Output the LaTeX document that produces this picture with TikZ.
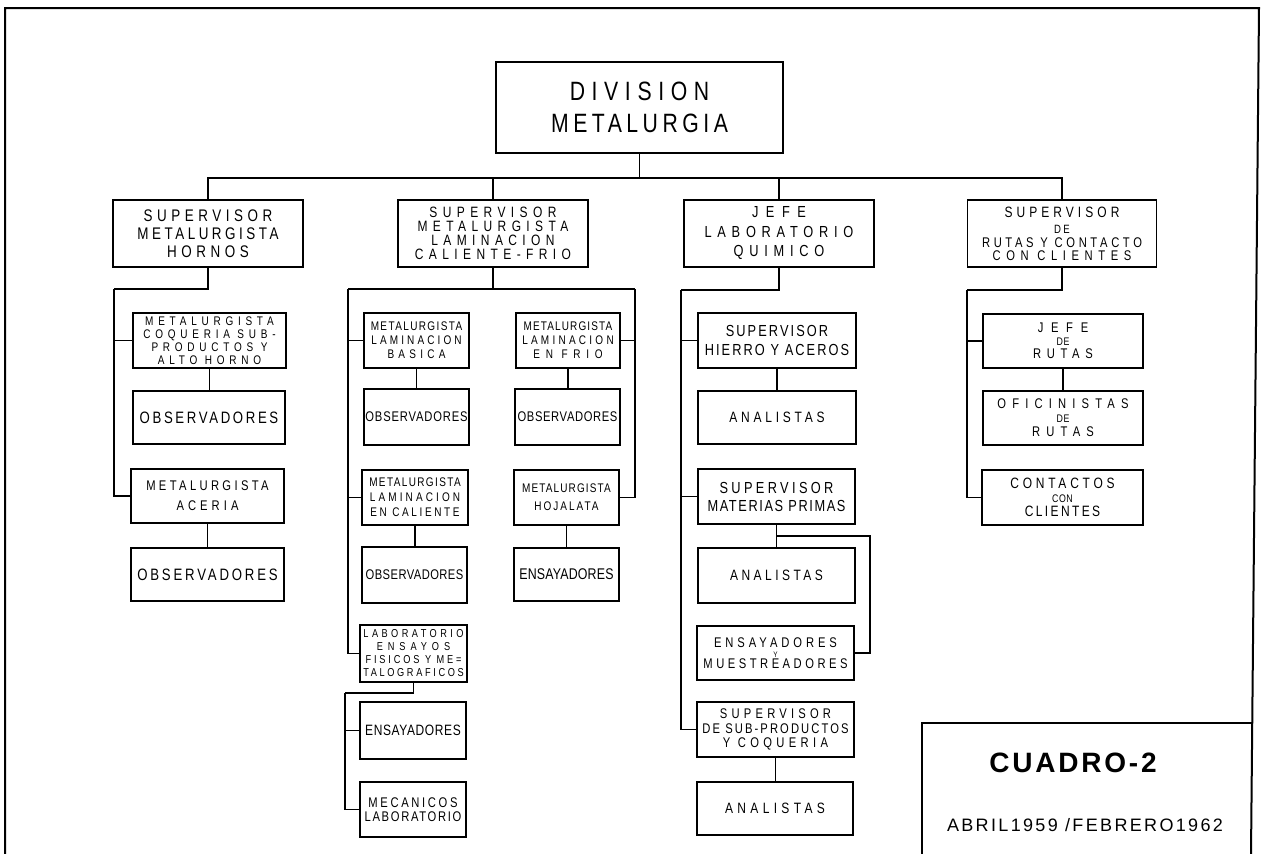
\documentclass[tikz,border=0pt]{standalone}
\usepackage{fontspec}
\setmainfont{Liberation Sans}[FakeStretch=0.8]
\newfontfamily\plainfont{Liberation Sans}
% size, baseline skip, letter spacing
\newcommand\hand[3]{\fontsize{#1}{#2}\selectfont\addfontfeatures{LetterSpace=#3}}
% letter spacing for one line
\newcommand\lsp[2]{{\addfontfeatures{LetterSpace=#1}#2}}
\tikzset{
  box/.style={draw, line width=1.6pt, inner sep=0pt, align=center},
  link/.style={line width=1.2pt},
  frame/.style={line width=2pt}
}
\begin{document}
\begin{tikzpicture}[x=1pt, y=-1pt, line join=miter]
\useasboundingbox (0,0) rectangle (1264,854);

% sheet border and title block
\draw[frame] (5,854) -- (5,8) -- (1259,8) -- (1251,854);
\draw[frame] (922,854) -- (922,723) -- (1253,723);
\node[font={\plainfont\fontsize{28}{28}\selectfont\addfontfeatures{LetterSpace=10}\bfseries}] (cuadro) at (1073,763) {CUADRO-2};
\node[font={\plainfont\fontsize{18}{18}\selectfont\addfontfeatures{LetterSpace=13}}] (fecha) at (1085,825) {ABRIL1959 /FEBRERO1962};

% head of the division
\node[box, minimum width=287, minimum height=91, font={\hand{26.5}{32}{17}}] (root) at (639.5,107.5) {\lsp{25}{DIVISION}\\METALURGIA};

% second level
\node[box, minimum width=190, minimum height=67, font={\hand{16.8}{18}{27}}] (s1) at (208,233.5) {SUPERVISOR\\\lsp{21}{METALURGISTA}\\HORNOS};
\node[box, minimum width=190, minimum height=67, font={\hand{15}{14}{36}}] (s2) at (493,233.5) {SUPERVISOR\\METALURGISTA\\LAMINACION\\CALIENTE-FRIO};
\node[box, minimum width=190, minimum height=67, font={\hand{16}{19.5}{36}}] (s3) at (779,233.5) {\lsp{47}{JEFE}\\LABORATORIO\\QUIMICO};
\node[box, minimum width=189, minimum height=67, font={\hand{15}{14}{27}}] (s4) at (1062,233.5) {SUPERVISOR\\[2pt]{\hand{12}{12}{20}DE}\\{\hand{14}{14}{26}RUTAS Y CONTACTO}\\[-1pt]{\hand{14}{14}{40}CON CLIENTES}};

\coordinate (b0) at (639.5,178);
\draw[link] (root.south) -- (b0);
\foreach \s in {s1,s2,s3,s4} \draw[link] (\s.north) |- (b0);

% hornos
\node[box, minimum width=153, minimum height=55, font={\hand{12.5}{13}{38}}] (c1a) at (209.5,340.5) {METALURGISTA\\COQUERIA SUB-\\PRODUCTOS Y\\ALTO HORNO};
\node[box, minimum width=152, minimum height=53, font={\hand{16.5}{16}{16}}] (c1b) at (209,417.5) {OBSERVADORES};
\node[box, minimum width=153, minimum height=54, font={\hand{14}{20}{24}}] (c1c) at (207.5,496) {METALURGISTA\\\lsp{29}{ACERIA}};
\node[box, minimum width=153, minimum height=53, font={\hand{16.5}{16}{17}}] (c1d) at (207.5,574.5) {OBSERVADORES};

\coordinate (k1) at (114,289);
\draw[link] (s1.south) |- (k1);
\draw[link] (k1) |- (c1c.west);
\draw[link] (k1 |- c1a.west) -- (c1a.west);
\draw[link] (c1a.south) -- (c1a.south |- c1b.north);
\draw[link] (c1c.south) -- (c1c.south |- c1d.north);

% laminacion
\node[box, minimum width=105, minimum height=55, font={\hand{12.5}{14}{25}}] (c2a) at (416.5,340.5) {\lsp{11}{METALURGISTA}\\LAMINACION\\\lsp{34}{BASICA}};
\node[box, minimum width=105, minimum height=56, font={\hand{14}{14}{6}}] (c2b) at (416.5,417) {OBSERVADORES};
\node[box, minimum width=106, minimum height=55, font={\hand{12.5}{15}{25}}] (c2c) at (415,497.5) {\lsp{11}{METALURGISTA}\\LAMINACION\\\lsp{21}{EN CALIENTE}};
\node[box, minimum width=105, minimum height=56, font={\hand{14}{14}{3}}] (c2d) at (414.5,575) {OBSERVADORES};
\node[box, minimum width=104, minimum height=55, font={\hand{12.5}{14}{26}}] (c2e) at (568,340.5) {\lsp{9}{METALURGISTA}\\LAMINACION\\\lsp{46}{EN FRIO}};
\node[box, minimum width=105, minimum height=56, font={\hand{14}{14}{4.5}}] (c2f) at (567.5,417) {OBSERVADORES};
\node[box, minimum width=105, minimum height=55, font={\hand{12.5}{18}{9}}] (c2g) at (566.5,497.5) {METALURGISTA\\\lsp{16}{HOJALATA}};
\node[box, minimum width=105, minimum height=53, font={\hand{15.5}{15}{1}}] (c2h) at (566.5,574.5) {ENSAYADORES};
\node[box, minimum width=107, minimum height=57, font={\hand{11.5}{13}{25}}] (c2i) at (413.5,653.5) {\lsp{30}{LABORATORIO}\\\lsp{43}{ENSAYOS}\\FISICOS Y ME=\\\lsp{23}{TALOGRAFICOS}};
\node[box, minimum width=106, minimum height=57, font={\hand{15}{15}{4}}] (c2j) at (413,730.5) {ENSAYADORES};
\node[box, minimum width=106, minimum height=55, font={\hand{14}{14}{12}}] (c2k) at (413,809.5) {\lsp{19}{MECANICOS}\\LABORATORIO};

\coordinate (k2l) at (348,289);
\coordinate (k2r) at (635,289);
\draw[link] (s2.south) -- (s2.south |- k2l);
\draw[link] (k2l) -- (k2r);
\draw[link] (k2l) |- (c2i.west);
\draw[link] (k2l |- c2a.west) -- (c2a.west);
\draw[link] (k2l |- c2c.west) -- (c2c.west);
\draw[link] (k2r) |- (c2g.east);
\draw[link] (k2r |- c2e.east) -- (c2e.east);
\draw[link] (c2a.south) -- (c2a.south |- c2b.north);
\draw[link] (c2c.south) -- (c2c.south |- c2d.north);
\draw[link] (c2e.south) -- (c2e.south |- c2f.north);
\draw[link] (c2g.south) -- (c2g.south |- c2h.north);
\coordinate (k2m) at (345,693);
\draw[link] (c2i.south) |- (k2m);
\draw[link] (k2m) |- (c2k.west);
\draw[link] (k2m |- c2j.west) -- (c2j.west);

% laboratorio quimico
\node[box, minimum width=158, minimum height=55, font={\hand{16}{19}{13}}] (c3a) at (777,340.5) {SUPERVISOR\\HIERRO Y ACEROS};
\node[box, minimum width=158, minimum height=53, font={\hand{15}{15}{25}}] (c3b) at (777,417.5) {ANALISTAS};
\node[box, minimum width=157, minimum height=55, font={\hand{16}{18}{10}}] (c3c) at (776.5,496.5) {\lsp{21}{SUPERVISOR}\\MATERIAS PRIMAS};
\node[box, minimum width=157, minimum height=55, font={\hand{15}{15}{23}}] (c3d) at (776.5,575.5) {ANALISTAS};
\node[box, minimum width=157, minimum height=54, font={\hand{14}{14}{25}}] (c3e) at (775.5,653) {\lsp{28}{ENSAYADORES}\\[-4pt]{\hand{8}{8}{0}Y}\\[-3pt]MUESTREADORES};
\node[box, minimum width=157, minimum height=55, font={\hand{14}{14.5}{15}}] (c3f) at (775.5,729.5) {\lsp{30}{SUPERVISOR}\\DE SUB-PRODUCTOS\\\lsp{31}{Y COQUERIA}};
\node[box, minimum width=156, minimum height=53, font={\hand{15}{15}{29}}] (c3g) at (775,808.5) {ANALISTAS};

\coordinate (k3) at (681,290);
\draw[link] (s3.south) |- (k3);
\draw[link] (k3) |- (c3f.west);
\draw[link] (k3 |- c3a.west) -- (c3a.west);
\draw[link] (k3 |- c3c.west) -- (c3c.west);
\draw[link] (c3a.south) -- (c3a.south |- c3b.north);
\draw[link] (c3c.south) -- (c3c.south |- c3d.north);
\draw[link] (c3f.south) -- (c3f.south |- c3g.north);
\coordinate (k3e) at (870,536);
\draw[link] (c3c.south |- k3e) -- (k3e) |- (c3e.east);

% rutas y clientes
\node[box, minimum width=160, minimum height=54, font={\hand{14}{13}{40}}] (c4a) at (1063,341) {\lsp{55}{JEFE}\\{\hand{11}{11}{5}DE}\\RUTAS};
\node[box, minimum width=160, minimum height=54, font={\hand{14}{14}{44}}] (c4b) at (1063,418) {OFICINISTAS\\{\hand{11}{11}{5}DE}\\RUTAS};
\node[box, minimum width=161, minimum height=55, font={\hand{15}{14}{25}}] (c4c) at (1062.5,497.5) {CONTACTOS\\{\hand{11}{11}{5}CON}\\\lsp{16}{CLIENTES}};

\coordinate (k4) at (967,290);
\draw[link] (s4.south) |- (k4);
\draw[link] (k4) |- (c4c.west);
\draw[link] (k4 |- c4a.west) -- (c4a.west);
\draw[link] (c4a.south) -- (c4a.south |- c4b.north);
\end{tikzpicture}
\end{document}
